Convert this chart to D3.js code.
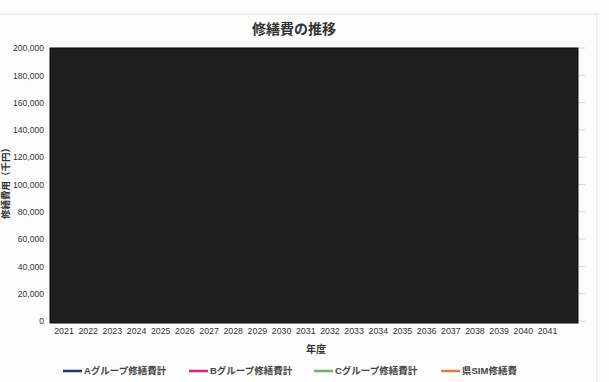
<!DOCTYPE html>
<html><head><meta charset="utf-8">
<script src="https://cdn.jsdelivr.net/npm/d3@7"></script>
<style>
html,body{margin:0;padding:0;background:#fcfcfc;}
text{font-family:"Liberation Sans","Noto Sans CJK JP",sans-serif;fill:#333;}
</style></head>
<body>
<script>
const title = "修繕費の推移";
const yTitle = "修繕費用（千円）";
const xTitle = "年度";
const years = d3.range(2021, 2042).map(String);
const yTicks = [0,20000,40000,60000,80000,100000,120000,140000,160000,180000,200000];
const seriesNames = ["Aグループ修繕費計","Bグループ修繕費計","Cグループ修繕費計","県SIM修繕費"];
const seriesColors = ["#1f3577","#d4287a","#6db56a","#e0823f"];

const W = 609, H = 382;
const svg = d3.select("body").append("svg").attr("width", W).attr("height", H);

// faint chart border (scanned)
svg.append("line").attr("x1",0).attr("x2",600).attr("y1",14).attr("y2",14).attr("stroke","#dcdcdc");
svg.append("line").attr("x1",597).attr("x2",597).attr("y1",14).attr("y2",H).attr("stroke","#e2e2e2");

const plotL = 50, plotR = 578, gridR = 585;
const y = d3.scaleLinear().domain([0,200000]).range([321,48]);
const x = d3.scalePoint().domain(years).range([63.5,547]);

// gridlines
svg.append("g").selectAll("line").data(yTicks).join("line")
  .attr("x1",plotL).attr("x2",gridR)
  .attr("y1",d=>y(d)).attr("y2",d=>y(d))
  .attr("stroke","#d6d6d6").attr("stroke-width",1);

// obscured (black) plot area
svg.append("rect").attr("x",plotL).attr("y",y(200000))
  .attr("width",plotR-plotL).attr("height",y(0)-y(200000)+2)
  .attr("fill","#1e1e1e").attr("stroke","#111").attr("stroke-width",1);

// y axis labels
const yAxis = d3.axisLeft(y).tickValues(yTicks).tickFormat(d3.format(",")).tickSize(0).tickPadding(0);
const gy = svg.append("g").attr("transform","translate(44,0)").call(yAxis);
gy.select(".domain").remove();
gy.selectAll("text").attr("font-size",8.6).style("fill","#333").attr("font-family","Liberation Sans, sans-serif");

// x axis labels
const xAxis = d3.axisBottom(x).tickSize(0).tickPadding(0);
const gx = svg.append("g").attr("transform","translate(0,331)").call(xAxis);
gx.select(".domain").remove();
gx.selectAll("text").attr("font-size",8.8).style("fill","#333").attr("dy","0.35em").attr("y",0);

// titles
svg.append("text").attr("x",294).attr("y",34).attr("text-anchor","middle")
  .attr("font-size",14).attr("font-weight","bold").attr("font-family","Noto Sans CJK JP").text(title);
svg.append("text").attr("transform","translate(6,181) rotate(-90)").attr("text-anchor","middle")
  .attr("dy","0.35em")
  .attr("font-size",9.5).attr("font-weight","bold").attr("font-family","Noto Sans CJK JP").text(yTitle);
svg.append("text").attr("x",316).attr("y",353).attr("text-anchor","middle")
  .attr("font-size",10).attr("font-weight","bold").attr("font-family","Noto Sans CJK JP").text(xTitle);

// legend
const legX = [63, 189, 314, 441];
const leg = svg.append("g").selectAll("g").data(seriesNames).join("g")
  .attr("transform",(d,i)=>`translate(${legX[i]},371)`);
leg.append("line").attr("x1",0).attr("x2",19).attr("y1",0).attr("y2",0)
  .attr("stroke",(d,i)=>seriesColors[i]).attr("stroke-width",2.5);
leg.append("text").attr("x",21).attr("y",0).attr("dy","0.35em")
  .attr("font-size",9.5).attr("font-weight","bold").attr("font-family","Noto Sans CJK JP").style("fill","#444").text(d=>d);
</script>
</body></html>
